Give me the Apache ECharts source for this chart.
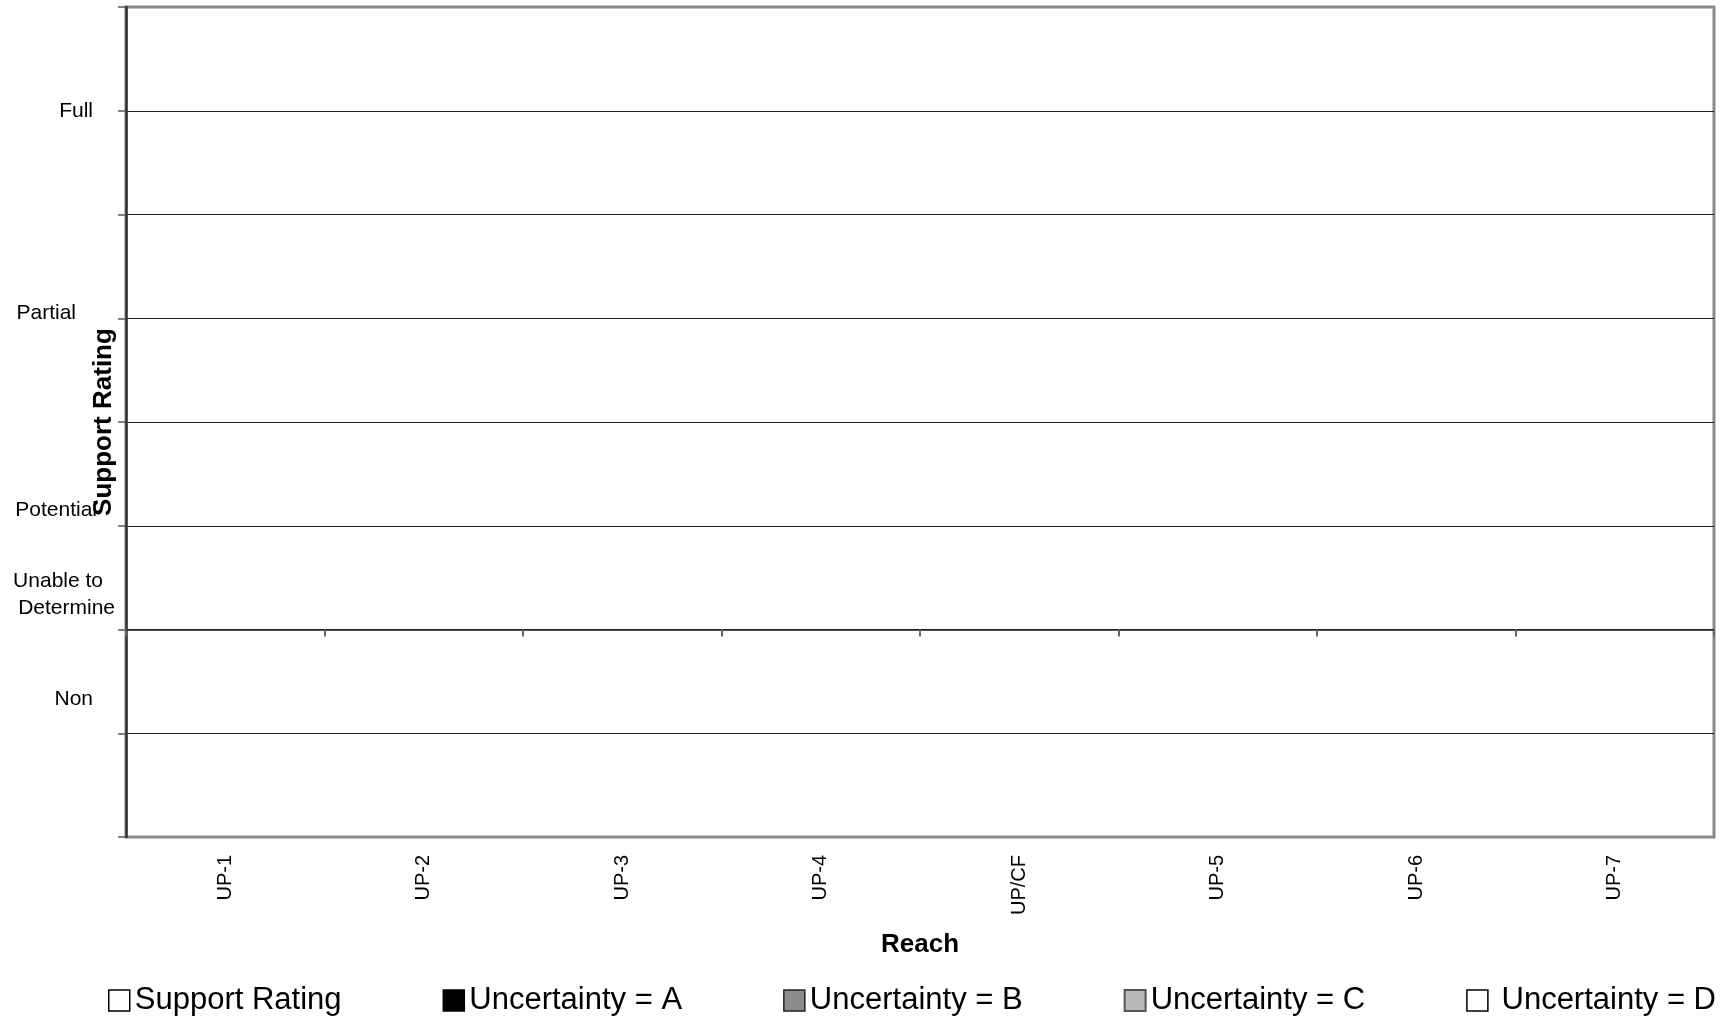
<!DOCTYPE html>
<html>
<head>
<meta charset="utf-8">
<script src="https://cdn.jsdelivr.net/npm/echarts@6/dist/echarts.min.js"></script>
<style>
html,body{margin:0;padding:0;background:#fff;}
#chart{width:1731px;height:1017px;}
</style>
</head>
<body>
<div id="chart"></div>
<script>
// Categories (reaches)
const reaches = ['UP-1', 'UP-2', 'UP-3', 'UP-4', 'UP/CF', 'UP-5', 'UP-6', 'UP-7'];
// Series values (no bars are drawn in the reference: all empty)
const supportRating = [null, null, null, null, null, null, null, null];
const uncertaintyA = [null, null, null, null, null, null, null, null];
const uncertaintyB = [null, null, null, null, null, null, null, null];
const uncertaintyC = [null, null, null, null, null, null, null, null];
const uncertaintyD = [null, null, null, null, null, null, null, null];
// Y axis rating labels and where they sit on the value scale
const ratingLabelValues = [5, 3.05, 1.15, 0.34, -0.67];
const ratingLabelTexts = ['Full', 'Partial', 'Potential', 'Unable to\nDetermine', 'Non'];
const ratingLabelStyles = ['full', 'partial', 'potential', 'utd', 'non'];
const seriesNames = ['Support Rating', 'Uncertainty = A', 'Uncertainty = B', 'Uncertainty = C', ' Uncertainty = D'];

const chart = echarts.init(document.getElementById('chart'));
const FONT = 'Liberation Sans, Arial, sans-serif';

const swatches = [
  {color: '#ffffff', borderColor: '#000000', borderWidth: 1.5},
  {color: '#000000', borderColor: '#000000', borderWidth: 1.5},
  {color: '#8c8c8c', borderColor: '#222222', borderWidth: 1.5},
  {color: '#b8b8b8', borderColor: '#555555', borderWidth: 2},
  {color: '#ffffff', borderColor: '#000000', borderWidth: 1.5}
];
const seriesData = [supportRating, uncertaintyA, uncertaintyB, uncertaintyC, uncertaintyD];

function labelFor(v) {
  for (let i = 0; i < ratingLabelValues.length; i++) {
    if (Math.abs(ratingLabelValues[i] - v) < 1e-6) {
      const t = ratingLabelTexts[i];
      if (ratingLabelStyles[i] === 'utd') {
        const parts = t.split('\n');
        return '{u1|' + parts[0] + '}\n{u2|' + parts[1] + '}';
      }
      return '{' + ratingLabelStyles[i] + '|' + t + '}';
    }
  }
  return '';
}

const base = {fontFamily: FONT, fontSize: 21, color: '#000'};

chart.setOption({
  animation: false,
  backgroundColor: '#ffffff',
  grid: {
    left: 126, right: 17, top: 7, bottom: 180,
    containLabel: false, outerBoundsMode: 'none',
    show: true, borderColor: '#8a8a8a', borderWidth: 3, backgroundColor: '#ffffff'
  },
  legend: {
    left: 103, top: 980,
    itemWidth: 21, itemHeight: 21, itemGap: 101,
    icon: 'rect',
    textStyle: {fontFamily: FONT, fontSize: 31, color: '#000'},
    data: seriesNames.map((n, i) => ({name: n, itemStyle: swatches[i]}))
  },
  xAxis: [
    {
      type: 'category', data: reaches, position: 'bottom',
      axisLine: {show: false, onZero: false},
      axisTick: {show: false},
      axisLabel: {rotate: 90, margin: 18, fontFamily: FONT, fontSize: 20, color: '#000', interval: 0},
      name: 'Reach', nameLocation: 'middle', nameGap: 95, nameMoveOverlap: false,
      nameTextStyle: {fontFamily: FONT, fontSize: 26, fontWeight: 'bold', color: '#000'}
    },
    {
      type: 'category', data: reaches, position: 'top',
      axisLine: {show: true, onZero: true, lineStyle: {color: '#222', width: 1.5}},
      axisTick: {show: true, inside: true, length: 7, lineStyle: {color: '#666', width: 2}},
      axisLabel: {show: false},
      splitLine: {show: false}
    }
  ],
  yAxis: {
    type: 'value', min: -2, max: 6, interval: 1,
    axisLine: {show: true, lineStyle: {color: '#333', width: 2.5}},
    axisTick: {show: true, length: 8, lineStyle: {color: '#555', width: 1.5}},
    splitLine: {show: true, showMinLine: false, showMaxLine: false, lineStyle: {color: '#222', width: 1.2}},
    axisLabel: {
      customValues: ratingLabelValues,
      margin: 11,
      formatter: labelFor,
      rich: {
        full: Object.assign({}, base, {padding: [0, 22, 0, 0]}),
        partial: Object.assign({}, base, {padding: [0, 39, 0, 0]}),
        potential: Object.assign({}, base, {padding: [0, 18, 0, 0]}),
        u1: Object.assign({}, base, {padding: [0, 12, 0, 0], lineHeight: 27}),
        u2: Object.assign({}, base, {padding: [0, 0, 0, 0], lineHeight: 27}),
        non: Object.assign({}, base, {padding: [0, 22, 0, 0]})
      }
    },
    name: 'Support Rating', nameLocation: 'middle', nameGap: 9, nameMoveOverlap: false,
    nameTextStyle: {fontFamily: FONT, fontSize: 26, fontWeight: 'bold', color: '#000'}
  },
  series: seriesData.map((d, i) => ({
    name: seriesNames[i],
    type: 'bar',
    stack: 'rating',
    xAxisIndex: 0,
    data: d,
    itemStyle: swatches[i]
  }))
});
</script>
</body>
</html>
